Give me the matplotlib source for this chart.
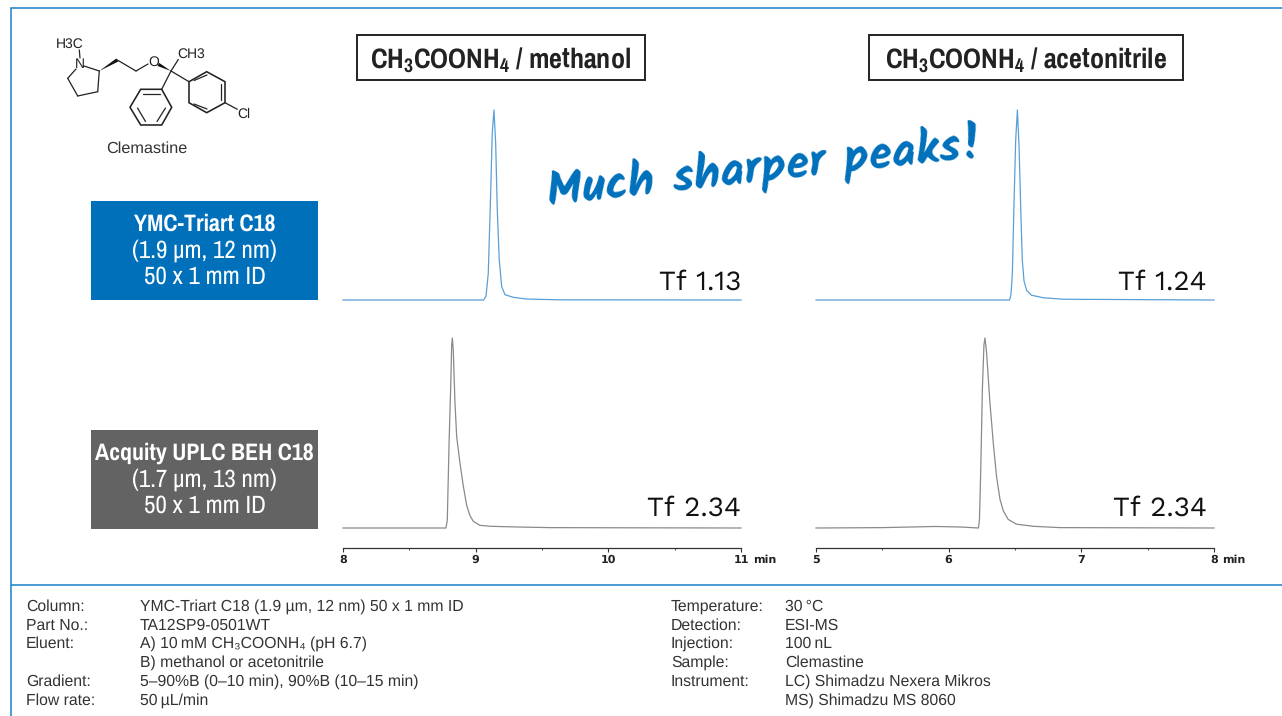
import matplotlib
matplotlib.use("Agg")
import matplotlib.pyplot as plt
from matplotlib.patches import Rectangle, Polygon
from matplotlib import font_manager as fm

W, H = 1282, 716
BLUE = "#1a80c8"; BOX_BLUE = "#0070bb"; BOX_GREY = "#636363"; TXT = "#333333"
TRACE_BLUE = "#5a9fd6"; TRACE_GREY = "#8a8a8a"

names = {f.name for f in fm.fontManager.ttflist}
def pick(*cands):
    for c in cands:
        if c in names:
            return c
    return "Liberation Sans"
NARROW = pick("Archivo Narrow", "Roboto Condensed")
NARROW_BOLD = pick("Pragati Narrow", "Roboto Condensed")
HAND = pick("Kalam", "Lato")
WIDE = pick("Work Sans", "DejaVu Sans")
plt.rcParams["font.family"] = ["Liberation Sans", "DejaVu Sans"]
plt.rcParams["mathtext.default"] = "regular"
plt.rcParams["text.hinting"] = "no_hinting"

# chromatogram data: time (min), relative intensity
t_meoh_triart = [8, 9.06, 9.078, 9.095, 9.113, 9.125, 9.138, 9.151, 9.163, 9.178, 9.196, 9.221, 9.284, 9.385, 9.636, 11]
y_meoh_triart = [0, 0, .02, .14, .56, .88, 1, .82, .47, .21, .07, .028, .014, .005, .001, 0]
t_acn_triart = [5, 6.459, 6.47, 6.48, 6.493, 6.505, 6.518, 6.53, 6.543, 6.555, 6.568, 6.588, 6.625, 6.713, 6.86, 8]
y_acn_triart = [0, 0, .03, .14, .52, .84, 1, .82, .49, .21, .1, .05, .025, .012, .004, 0]
t_meoh_beh = [8, 8.776, 8.786, 8.80, 8.812, 8.819, 8.824, 8.831, 8.844, 8.857, 8.882, 8.907, 8.932, 8.957, 8.982, 9.033, 9.108, 9.334, 9.56, 10.2, 11]
y_meoh_beh = [0, 0, .04, .46, .75, .96, 1, .94, .66, .48, .34, .22, .12, .065, .035, .014, .009, .005, .002, .001, 0]
t_acn_beh = [5, 5.5, 5.9, 6.1, 6.224, 6.232, 6.242, 6.254, 6.266, 6.274, 6.286, 6.311, 6.336, 6.361, 6.387, 6.412, 6.449, 6.512, 6.636, 6.84, 8]
y_acn_beh = [0, .002, .008, .005, 0, .04, .31, .73, .965, 1, .92, .66, .45, .27, .15, .09, .045, .02, .009, .002, 0]

xticks_meoh = [8, 9, 10, 11]
xticks_acn = [5, 6, 7, 8]
tf_labels = ["Tf 1.13", "Tf 1.24", "Tf 2.34", "Tf 2.34"]

left_rows = [("Column:", "YMC-Triart C18 (1.9 µm, 12 nm) 50 x 1 mm ID"),
             ("Part No.:", "TA12SP9-0501WT"),
             ("Eluent:", "A) 10\u2009mM CH\u2083COONH\u2084 (pH 6.7)"),
             ("", "B) methanol or acetonitrile"),
             ("Gradient:", "5–90%B (0–10 min), 90%B (10–15 min)"),
             ("Flow rate:", "50\u2009µL/min")]
right_rows = [("Temperature:", "30\u2009°C"),
              ("Detection:", "ESI-MS"),
              ("Injection:", "100\u2009nL"),
              ("Sample:", "Clemastine"),
              ("Instrument:", "LC) Shimadzu Nexera Mikros"),
              ("", "MS) Shimadzu MS 8060")]
row_base = [611, 629.5, 648, 667, 686, 704.5]

fig = plt.figure(figsize=(W / 100, H / 100), dpi=100, facecolor="white")
bg = fig.add_axes([0, 0, 1, 1]); bg.set_xlim(0, W); bg.set_ylim(H, 0); bg.axis("off")

# frame
bg.plot([10.5, 10.5, W], [H, 7.5, 7.5], color=BLUE, lw=1.1, solid_capstyle="butt", solid_joinstyle="miter")
bg.plot([10.5, W], [584.5, 584.5], color=BLUE, lw=1.1, solid_capstyle="butt")

# chromatograms
def panel(x0, ytop, t, y, color, xlim, ticks=None):
    ax = fig.add_axes([x0 / W, 1 - (ytop + 190) / H, 398 / W, 190 / H])
    ax.patch.set_alpha(0)
    ax.plot(t, y, color=color, lw=0.9, clip_on=False)
    ax.set_xlim(*xlim); ax.set_ylim(0, 1)
    ax.set_yticks([])
    for s in ("top", "left", "right"):
        ax.spines[s].set_visible(False)
    if ticks is None:
        ax.spines["bottom"].set_visible(False)
        ax.set_xticks([])
    else:
        ax.spines["bottom"].set_position(("outward", 14.4))
        ax.spines["bottom"].set_linewidth(0.9)
        ax.spines["bottom"].set_color("#333333")
        ax.set_xticks(ticks)
        ax.set_xticks([v + .5 for v in ticks[:-1]], minor=True)
        ax.tick_params(axis="x", which="major", length=3, width=0.8, pad=2.0, color="#333333")
        ax.tick_params(axis="x", which="minor", length=1.5, width=0.8, color="#555555")
        for lab in ax.get_xticklabels():
            lab.set_fontfamily("DejaVu Sans"); lab.set_fontweight("bold"); lab.set_fontsize(8.0); lab.set_color("#222222")
    return ax

panel(343, 110, t_meoh_triart, y_meoh_triart, TRACE_BLUE, (8, 11))
panel(816, 110, t_acn_triart, y_acn_triart, TRACE_BLUE, (5, 8))
panel(343, 338, t_meoh_beh, y_meoh_beh, TRACE_GREY, (8, 11), xticks_meoh)
panel(816, 338, t_acn_beh, y_acn_beh, TRACE_GREY, (5, 8), xticks_acn)

for x, y, s in [(741, 290, tf_labels[0]), (1207, 290, tf_labels[1]), (741, 516, tf_labels[2]), (1207, 516, tf_labels[3])]:
    bg.text(x, y, s, ha="right", va="baseline", fontsize=20, family=WIDE, color="#111111")

for x, y in [(765, 563), (1234, 563)]:
    bg.text(x, y, "min", ha="center", va="baseline", fontsize=8.0, family="DejaVu Sans", fontweight="bold", color="#222222")

# title boxes
for x0, x1, s in [(357, 645, "CH$_3$COONH$_4$ / methanol"), (869, 1183, "CH$_3$COONH$_4$ / acetonitrile")]:
    bg.add_patch(Rectangle((x0, 35), x1 - x0, 45, fc="white", ec="#222222", lw=1.4))
    bg.text((x0 + x1) / 2, 68, s, ha="center", va="baseline", fontsize=22, family=NARROW_BOLD, fontweight="bold", color="#222222")

# column boxes
for y0, col, lines in [(201, BOX_BLUE, ["YMC-Triart C18", "(1.9 µm, 12 nm)", "50 x 1 mm ID"]),
                       (430, BOX_GREY, ["Acquity UPLC BEH C18", "(1.7 µm, 13 nm)", "50 x 1 mm ID"])]:
    bg.add_patch(Rectangle((91, y0), 227, 99, fc=col, ec="none"))
    for i, s in enumerate(lines):
        bold = i == 0
        bg.text(204.5, y0 + 30 + 26.5 * i, s, ha="center", va="baseline", color="white",
                family=NARROW_BOLD if bold else NARROW,
                fontsize=18.7 if bold else 18, fontweight="bold" if bold else "normal")

# call-out
bg.text(765, 169, "Much sharper peaks!", ha="center", va="center", rotation=6.4, rotation_mode="anchor",
        fontsize=33.8, family=HAND, fontweight="bold", color=BOX_BLUE)

# structure of clemastine
bonds = [[(80, 58), (79.3, 50)], [(84, 66), (99.3, 71)], [(99.3, 71), (97.7, 91.7)], [(97.7, 91.7), (77.7, 96)],
         [(77.7, 96), (67.7, 78.3)], [(67.7, 78.3), (76, 69)], [(117.3, 60), (136, 71)], [(136, 71), (148, 64)],
         [(171, 71), (178.3, 59.5)], [(171, 71), (161.7, 89.3)], [(171, 71), (189, 81.7)],
         [(143, 94), (159.5, 94)], [(137.5, 108), (145.5, 121.5)], [(157, 121.5), (165.5, 108)],
         [(194, 80.5), (207, 75)], [(221, 84), (221, 100)], [(194, 104), (207, 109)], [(225, 102.7), (237.3, 109.3)]]
hex1 = [(161.7, 89.3), (171.7, 107.3), (161.7, 125), (140.7, 125), (130, 107.3), (140.7, 89.3)]
hex2 = [(189, 81.7), (206.7, 71.7), (225, 81.7), (225, 102.7), (206.7, 112.7), (189, 102.7)]
wedges = [[(99.3, 71), (116.3, 58.5), (118.3, 61.5)], [(171, 71), (159, 62.8), (157.5, 66)]]
for b in bonds:
    bg.plot(*zip(*b), color="#222222", lw=0.9, solid_capstyle="round")
for h in (hex1, hex2):
    bg.add_patch(Polygon(h, closed=True, fc="none", ec="#222222", lw=1.15))
for w in wedges:
    bg.add_patch(Polygon(w, closed=True, fc="#111111", ec="none"))
for x, y, s in [(70, 44.5, "H3C"), (80, 64, "N"), (153.3, 62.5, "O"), (191, 54.5, "CH3"), (244, 114, "Cl")]:
    bg.text(x, y, s, ha="center", va="center", fontsize=10, color="#222222")
bg.text(146.7, 148.5, "Clemastine", ha="center", va="center", fontsize=11.7, color=TXT)

# conditions
for x0, x1, rows in [(26, 140, left_rows), (671, 785, right_rows)]:
    for y, (a, b) in zip(row_base, rows):
        if a:
            bg.text(x0, y, a, ha="left", va="baseline", fontsize=11.35, color=TXT)
        bg.text(x1, y, b, ha="left", va="baseline", fontsize=11.35, color=TXT)

fig.savefig("out.png", dpi=100)
